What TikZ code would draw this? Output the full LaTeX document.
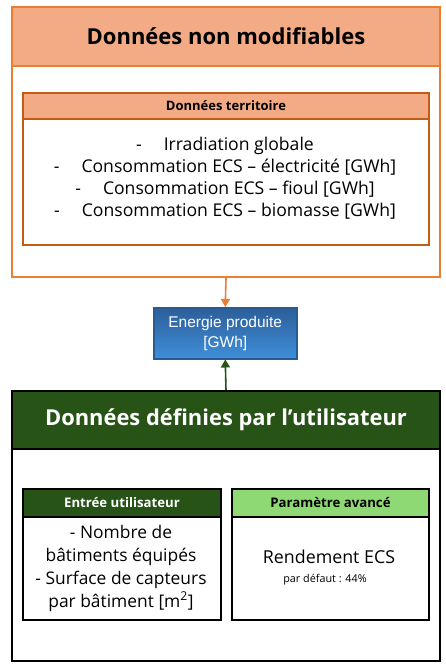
\documentclass[tikz,border=0pt]{standalone}
\usepackage{fontspec}
\setmainfont{Open Sans}
\newfontfamily\arialfont{Liberation Sans}
\usetikzlibrary{arrows.meta}
\definecolor{orborder}{HTML}{ED7D31}
\definecolor{orfill}{HTML}{F2AB85}
\definecolor{orinner}{HTML}{C55A11}
\definecolor{dkgreen}{HTML}{275317}
\definecolor{ltgreen}{HTML}{8ED973}
\definecolor{bltop}{HTML}{2C5E99}
\definecolor{blbot}{HTML}{3F8FDA}
\definecolor{blborder}{HTML}{2A5A92}
\tikzset{
  box/.style={draw, rectangle, anchor=north west, inner sep=0pt, line width=2pt, fill=white},
  hdr/.style={draw, rectangle, anchor=north west, inner sep=0pt, line width=2pt, align=center},
  body/.style={align=center, font=\fontsize{17.6}{22}\selectfont},
  link/.style={line width=1.6pt, -{Triangle[length=8pt,width=9pt]}},
}
\begin{document}
\begin{tikzpicture}[x=1pt,y=-1pt]
\useasboundingbox (0,0) rectangle (446,669);
% top block
\node[box, draw=orborder, minimum width=428pt, minimum height=270pt] (topouter) at (11,6) {};
\node[hdr, draw=orborder, fill=orfill, minimum width=428pt, minimum height=59pt, font=\fontsize{22}{26}\selectfont\bfseries] (tophdr) at (11,6) {Données non modifiables};
\node[box, draw=orinner, minimum width=406pt, minimum height=152pt] (terr) at (22,92) {};
\node[hdr, draw=orinner, fill=orfill, minimum width=406pt, minimum height=26pt, font=\fontsize{13}{15}\selectfont\bfseries] (terrhdr) at (22,92) {Données territoire};
\node[body] (terrtxt) at (225,178) {-\hspace{22pt}Irradiation globale\\
-\hspace{22pt}Consommation ECS – électricité [GWh]\\
-\hspace{22pt}Consommation ECS – fioul [GWh]\\
-\hspace{22pt}Consommation ECS – biomasse [GWh]};
% energie
\node[draw=blborder, line width=1.5pt, top color=bltop, bottom color=blbot, text=white, anchor=north west, minimum width=143pt, minimum height=51pt, inner sep=0pt, align=center, font=\arialfont\fontsize{15.5}{20}\selectfont] (energie) at (153,307) {Energie produite\\{[GWh]}};
% bottom block
\node[box, draw=black, minimum width=428pt, minimum height=270pt] (botouter) at (11,390) {};
\node[hdr, draw=black, fill=dkgreen, text=white, minimum width=428pt, minimum height=58pt, font=\fontsize{21.9}{26}\selectfont\bfseries] (bothdr) at (11,390) {Données définies par l’utilisateur};
\node[box, draw=black, minimum width=198pt, minimum height=131pt] (entree) at (22,488) {};
\node[hdr, draw=black, fill=dkgreen, text=white, minimum width=198pt, minimum height=28pt, font=\fontsize{13.2}{15}\selectfont\bfseries] (entreehdr) at (22,488) {Entrée utilisateur};
\node[body, font=\fontsize{17.4}{23}\selectfont] (entreetxt) at (121,568) {- Nombre de\\bâtiments équipés\\- Surface de capteurs\\par bâtiment [m\textsuperscript{2}]};
\node[box, draw=black, minimum width=197pt, minimum height=131pt] (param) at (231,488) {};
\node[hdr, draw=black, fill=ltgreen, minimum width=197pt, minimum height=28pt, font=\fontsize{13.2}{15}\selectfont\bfseries] (paramhdr) at (231,488) {Paramètre avancé};
\node[font=\fontsize{17.8}{22}\selectfont] (rend) at (329,557) {Rendement ECS};
\node[font=\fontsize{10.8}{13}\selectfont] (defaut) at (325,580) {par défaut : 44\%};
% arrows
\draw[link, orborder] (topouter.south) -- (energie.north);
\draw[link, dkgreen] (botouter.north) -- (energie.south);
\end{tikzpicture}
\end{document}
